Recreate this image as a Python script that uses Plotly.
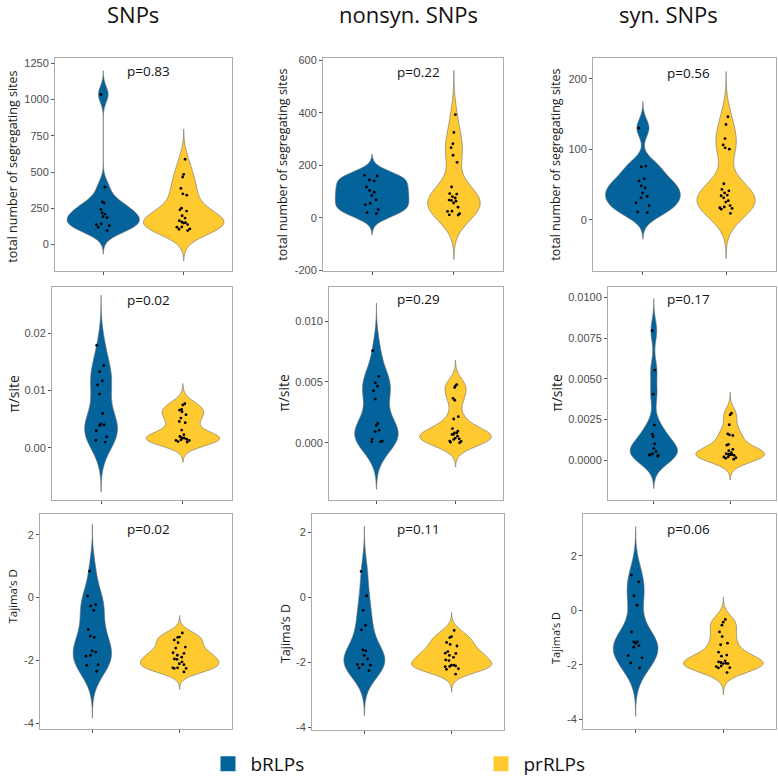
import numpy as np
import plotly.graph_objects as go

# ---------------- data ----------------
groups = ["bRLPs", "prRLPs"]
col_titles = ["SNPs", "nonsyn. SNPs", "syn. SNPs"]
row_titles = ["total number of segregating sites", "π/site", "Tajima’s D"]
p_values = ["p=0.83", "p=0.22", "p=0.56",
            "p=0.02", "p=0.29", "p=0.17",
            "p=0.02", "p=0.11", "p=0.06"]

snp_seg_b = [1035, 396, 294, 287, 242, 219, 210, 192, 185, 142, 138, 130, 120, 97]
snp_seg_p = [588, 484, 466, 387, 350, 341, 251, 240, 231, 199, 183, 165, 156, 151, 149, 138, 122, 120, 108, 106, 97]
nonsyn_seg_b = [161, 159, 144, 140, 117, 104, 97, 85, 68, 55, 49, 31, 19, 16]
nonsyn_seg_p = [393, 325, 282, 267, 238, 211, 117, 92, 90, 80, 75, 67, 66, 63, 56, 40, 25, 24, 15, 11, 10]
syn_seg_b = [130, 76, 75, 58, 55, 48, 45, 38, 33, 31, 24, 20, 11, 10]
syn_seg_p = [146, 135, 115, 106, 102, 100, 51, 43, 41, 38, 35, 34, 31, 27, 25, 20, 18, 17, 16, 15, 9]

snp_pi_b = [0.0179, 0.0144, 0.0133, 0.0117, 0.0110, 0.0094, 0.0060, 0.0042, 0.0040, 0.0039, 0.0030, 0.0019, 0.0013, 0.0010]
snp_pi_p = [0.0077, 0.0075, 0.0067, 0.0066, 0.0063, 0.0058, 0.0052, 0.0046, 0.0044, 0.0031, 0.0023, 0.0020, 0.0018,
            0.0017, 0.0017, 0.0015, 0.0014, 0.0013, 0.0013, 0.0011, 0.0010]
nonsyn_pi_b = [0.00757, 0.00546, 0.00492, 0.00465, 0.00427, 0.00359, 0.00159, 0.00141, 0.00103, 0.00092, 0.00030,
               0.00014, 0.00008, 0.00008]
nonsyn_pi_p = [0.00478, 0.00468, 0.00454, 0.00365, 0.00349, 0.00214, 0.00195, 0.00116, 0.00095, 0.00081, 0.00081,
               0.00068, 0.00068, 0.00054, 0.00038, 0.00032, 0.00027, 0.00014, 0.00011, 0.00005, 0.0]
syn_pi_b = [0.00796, 0.00554, 0.00406, 0.00216, 0.00160, 0.00145, 0.00101, 0.00073, 0.00053, 0.00040, 0.00034,
            0.00030, 0.00030, 0.00024]
syn_pi_p = [0.00289, 0.00279, 0.00218, 0.00162, 0.00156, 0.00152, 0.00097, 0.00093, 0.00067, 0.00059, 0.00046,
            0.00040, 0.00038, 0.00034, 0.00034, 0.00030, 0.00022, 0.00020, 0.00016, 0.00012, 0.00006]

snp_taj_b = [0.84, 0.05, -0.23, -0.27, -0.41, -1.02, -1.23, -1.27, -1.70, -1.74, -1.84, -1.87, -2.14, -2.16, -2.35]
snp_taj_p = [-1.13, -1.26, -1.27, -1.35, -1.44, -1.58, -1.61, -1.76, -1.78, -1.84, -1.90, -1.96, -1.97, -2.05,
             -2.11, -2.14, -2.24, -2.24, -2.26, -2.26, -2.37]
nonsyn_taj_b = [0.80, 0.05, -0.40, -0.86, -1.00, -1.62, -1.65, -1.79, -1.90, -2.07, -2.07, -2.09, -2.18, -2.26]
nonsyn_taj_p = [-1.02, -1.21, -1.24, -1.39, -1.45, -1.50, -1.67, -1.72, -1.73, -1.79, -1.85, -1.93, -1.95, -2.09,
                -2.09, -2.11, -2.13, -2.14, -2.20, -2.22, -2.37]
syn_taj_b = [1.29, 1.04, 0.53, 0.18, -0.80, -1.16, -1.16, -1.21, -1.30, -1.36, -1.67, -1.75, -1.94, -2.12]
syn_taj_p = [-0.34, -0.44, -0.55, -0.80, -0.97, -1.21, -1.27, -1.54, -1.65, -1.69, -1.86, -1.90, -1.92, -1.95,
             -1.96, -1.96, -2.05, -2.07, -2.11, -2.12, -2.29]

ticks_seg_snp = [0, 250, 500, 750, 1000, 1250]
ticklabels_seg_snp = ["0", "250", "500", "750", "1000", "1250"]
ticks_seg_nonsyn = [-200, 0, 200, 400, 600]
ticklabels_seg_nonsyn = ["-200", "0", "200", "400", "600"]
ticks_seg_syn = [0, 100, 200]
ticklabels_seg_syn = ["0", "100", "200"]
ticks_pi_snp = [0.0, 0.01, 0.02]
ticklabels_pi_snp = ["0.00", "0.01", "0.02"]
ticks_pi_nonsyn = [0.0, 0.005, 0.01]
ticklabels_pi_nonsyn = ["0.000", "0.005", "0.010"]
ticks_pi_syn = [0.0, 0.0025, 0.005, 0.0075, 0.01]
ticklabels_pi_syn = ["0.0000", "0.0025", "0.0050", "0.0075", "0.0100"]
ticks_taj = [-4, -2, 0, 2]
ticklabels_taj = ["-4", "-2", "0", "2"]

panel_data = [
    (snp_seg_b, snp_seg_p), (nonsyn_seg_b, nonsyn_seg_p), (syn_seg_b, syn_seg_p),
    (snp_pi_b, snp_pi_p), (nonsyn_pi_b, nonsyn_pi_p), (syn_pi_b, syn_pi_p),
    (snp_taj_b, snp_taj_p), (nonsyn_taj_b, nonsyn_taj_p), (syn_taj_b, syn_taj_p),
]
panel_ticks = [
    (ticks_seg_snp, ticklabels_seg_snp), (ticks_seg_nonsyn, ticklabels_seg_nonsyn), (ticks_seg_syn, ticklabels_seg_syn),
    (ticks_pi_snp, ticklabels_pi_snp), (ticks_pi_nonsyn, ticklabels_pi_nonsyn), (ticks_pi_syn, ticklabels_pi_syn),
    (ticks_taj, ticklabels_taj), (ticks_taj, ticklabels_taj), (ticks_taj, ticklabels_taj),
]

# ---------------- layout / style ----------------
W, H = 778, 783
fill_colors = ["#04639B", "#FFC930"]
outline = "#707070"
font_main = "Open Sans"
font_tick = "Liberation Sans"

# plot boxes in pixels: (left, right, top, bottom)
boxes = [
    (55, 232, 55, 271), (323, 503, 55, 271), (593, 776, 55, 271),
    (52, 232, 287, 503), (329, 503, 287, 503), (608, 776, 287, 503),
    (40, 232, 517, 735), (312, 504, 517, 736), (583, 776, 517, 735),
]
y_ranges = [
    [-183, 1284], [-204, 608], [-73, 229],
    [-0.0091, 0.0281], [-0.0047, 0.0128], [-0.00244, 0.01065],
    [-4.18, 2.67], [-4.08, 2.58], [-4.35, 3.54],
]
# maximum violin width (x units) per panel: (bRLPs, prRLPs)
violin_widths = [
    (0.9, 1.0), (0.9, 0.64), (0.9, 0.70),
    (0.40, 0.9), (0.55, 0.9), (0.62, 0.9),
    (0.44, 0.9), (0.47, 0.92), (0.51, 0.91),
]
jitter_halfwidth = 0.1
ytitle_pos = [(13, 165), (283, 163), (556, 163),
              (13, 395), (283, 395), (556, 395),
              (13, 601), (285, 639), (556, 643)]
ytitle_size = [12.5, 12.5, 12.5, 14, 14, 14, 11.5, 12.5, 11]
pval_pos = [(148, 68), (418, 69), (688, 70),
            (148, 300), (418, 299), (688, 299),
            (148, 532), (418, 532), (688, 532)]
coltitle_pos = [(133, 10), (408, 10), (668, 10)]
legend_x = [205.5, 478.5]
legend_y = 771


def nrd0(vals):
    v = np.asarray(vals, dtype=float)
    sd = v.std(ddof=1)
    iqr = np.percentile(v, 75) - np.percentile(v, 25)
    lo = min(sd, iqr / 1.34) if iqr > 0 else sd
    return 0.9 * lo * len(v) ** (-0.2)


def px_x(p):
    return p / W


def px_y(p):
    return 1 - p / H


fig = go.Figure()
layout = {}
annotations = []

for i in range(9):
    ax = "" if i == 0 else str(i + 1)
    l, r, t, b = boxes[i]
    for g in range(2):
        vals = panel_data[i][g]
        bw = nrd0(vals)
        wv = violin_widths[i][g]
        fig.add_trace(go.Violin(
            y=vals, x0=g + 1, name=groups[g],
            xaxis="x" + ax, yaxis="y" + ax,
            bandwidth=bw, spanmode="manual",
            span=[min(vals) - 3 * bw, max(vals) + 3 * bw],
            width=wv,
            fillcolor=fill_colors[g], opacity=1,
            line=dict(color=outline, width=0.6),
            points="all", pointpos=0, jitter=min(1.0, jitter_halfwidth / (wv / 2)),
            marker=dict(color="black", size=2.8),
            box_visible=False, meanline_visible=False,
            showlegend=False, hoverinfo="skip",
        ))
    layout["xaxis" + ax] = dict(
        domain=[px_x(l), px_x(r)], anchor="y" + ax, type="linear",
        range=[0.4, 2.6], tickvals=[1, 2], showticklabels=False,
        ticks="outside", ticklen=3, tickcolor="#555555", tickwidth=1,
        showline=True, mirror=True, linecolor="#ababab", linewidth=1,
        showgrid=False, zeroline=False, fixedrange=True,
    )
    layout["yaxis" + ax] = dict(
        domain=[px_y(b), px_y(t)], anchor="x" + ax,
        range=y_ranges[i], tickvals=panel_ticks[i][0], ticktext=panel_ticks[i][1],
        ticks="outside", ticklen=3, tickcolor="#555555", tickwidth=1,
        tickfont=dict(family=font_tick, size=11, color="#4D4D4D"),
        showline=True, mirror=True, linecolor="#ababab", linewidth=1,
        showgrid=False, zeroline=False, fixedrange=True,
    )
    tx, ty = ytitle_pos[i]
    annotations.append(dict(
        text=row_titles[i // 3], x=px_x(tx), y=px_y(ty), xref="paper", yref="paper",
        textangle=-90, showarrow=False, xanchor="center", yanchor="middle",
        font=dict(family=font_main, size=ytitle_size[i], color="#1a1a1a"),
    ))
    pxp, pyp = pval_pos[i]
    annotations.append(dict(
        text=p_values[i], x=px_x(pxp), y=px_y(pyp), xref="paper", yref="paper",
        showarrow=False, xanchor="center", yanchor="middle",
        font=dict(family=font_main, size=13.5, color="#111111"),
    ))

for c in range(3):
    cx, cy = coltitle_pos[c]
    annotations.append(dict(
        text=col_titles[c], x=px_x(cx), y=px_y(cy), xref="paper", yref="paper",
        showarrow=False, xanchor="center", yanchor="middle",
        font=dict(family=font_main, size=22, color="#111111"),
    ))

# legend proxies (one legend box per group)
legend_names = ["legend", "legend2"]
for g in range(2):
    fig.add_trace(go.Scatter(
        x=[None], y=[None], mode="markers", name=groups[g], legend=legend_names[g],
        marker=dict(symbol="square", size=15, color=fill_colors[g], line=dict(width=0)),
        showlegend=True, hoverinfo="skip",
    ))

legend_style = dict(
    orientation="h", xanchor="left", yanchor="middle", y=px_y(legend_y),
    font=dict(family=font_main, size=19, color="#111111"),
    itemsizing="trace", itemwidth=35,
    bgcolor="rgba(0,0,0,0)", borderwidth=0,
)

fig.update_layout(
    width=W, height=H,
    margin=dict(l=0, r=0, t=0, b=0),
    paper_bgcolor="white", plot_bgcolor="white",
    violinmode="overlay", violingap=0.1, violingroupgap=0,
    annotations=annotations,
    legend=dict(x=px_x(legend_x[0]), **legend_style),
    legend2=dict(x=px_x(legend_x[1]), **legend_style),
    **layout,
)

fig.write_html("out.html", config={"displayModeBar": False},
               post_script="document.body.style.margin='0px';")
